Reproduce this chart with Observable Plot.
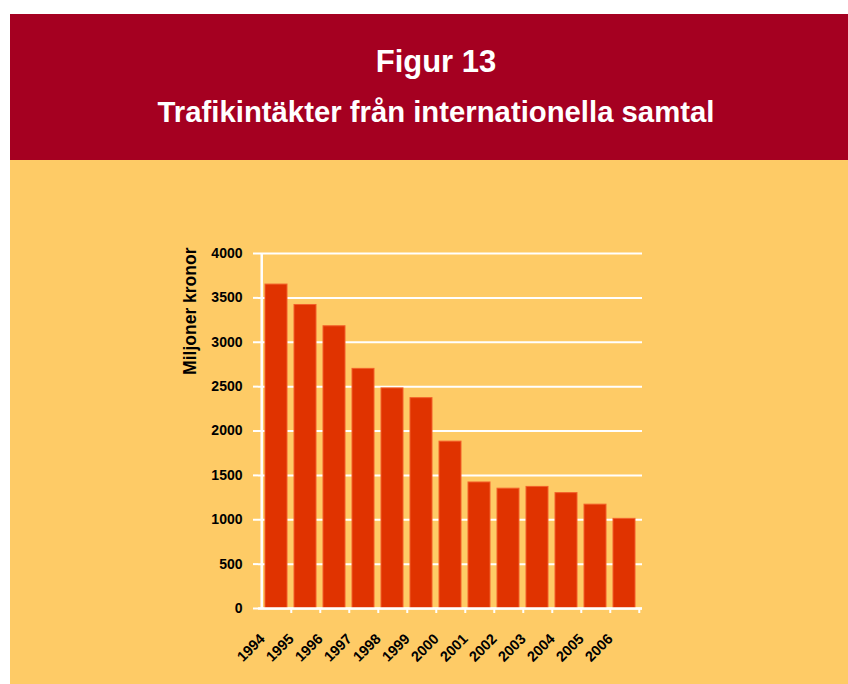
<!DOCTYPE html>
<html>
<head>
<meta charset="utf-8">
<script src="https://cdn.jsdelivr.net/npm/d3@7"></script>
<script src="https://cdn.jsdelivr.net/npm/@observablehq/plot@0.6"></script>
<style>
  html, body { margin: 0; padding: 0; background: #ffffff; }
  #page { position: relative; width: 848px; height: 684px; overflow: hidden; font-family: "Liberation Sans", Arial, sans-serif; }
  #band { position: absolute; left: 10px; top: 14px; width: 850px; height: 146px; background: #A50021; }
  #panel { position: absolute; left: 10px; top: 160px; width: 850px; height: 524px; background: #FECB66; }
  #title { position: absolute; left: 10px; width: 852px; top: 44px; line-height: 36px; text-align: center; color: #fff; font-weight: bold; font-size: 31px; }
  #subtitle { position: absolute; left: 10px; width: 852px; top: 95px; line-height: 34px; text-align: center; color: #fff; font-weight: bold; font-size: 29.3px; }
  #chart { position: absolute; left: 0; top: 160px; }
</style>
</head>
<body>
<div id="page">
  <div id="band"></div>
  <div id="panel"></div>
  <div id="title">Figur 13</div>
  <div id="subtitle">Trafikintäkter från internationella samtal</div>
  <div id="chart"></div>
</div>
<script>
const years = ["1994","1995","1996","1997","1998","1999","2000","2001","2002","2003","2004","2005","2006"];
const revenue = [3650, 3420, 3180, 2700, 2480, 2370, 1880, 1420, 1350, 1370, 1300, 1170, 1010];
const yTicks = [0, 500, 1000, 1500, 2000, 2500, 3000, 3500, 4000];
const yLabel = "Miljoner kronor";

const data = years.map((y, i) => ({year: y, value: revenue[i]}));
const step = 384 / 13;

const chart = Plot.plot({
  width: 848,
  height: 524,
  marginLeft: 258,
  marginRight: 206,
  marginTop: 93,
  marginBottom: 76,
  style: {background: "transparent", fontFamily: "'Liberation Sans', Arial, sans-serif", fontWeight: "bold", fontSize: "14px", color: "#000"},
  x: {domain: years, paddingInner: 0.25, paddingOuter: 0.125},
  y: {domain: [0, 4000], ticks: yTicks},
  marks: [
    Plot.gridY(yTicks, {stroke: "#ffffff", strokeOpacity: 1, strokeWidth: 2}),
    Plot.barY(data, {x: "year", y: "value", fill: "#E03300", stroke: "#F2602A", strokeWidth: 1}),
    Plot.ruleY([0], {stroke: "#ffffff", strokeWidth: 2.5}),
    Plot.axisY(yTicks, {tickSize: 5, stroke: "#ffffff", strokeWidth: 2, tickPadding: 11, tickFormat: d => String(d), label: null, fill: "#000", fontSize: 14, fontWeight: "bold"}),
    Plot.ruleX(years.slice(0, 1), {y1: 0, y2: 4000, dx: -step / 2, stroke: "#ffffff", strokeWidth: 2.5}),
    Plot.ruleX(years.slice(0, 1), {y1: 0, dy: 5, dx: -step / 2, stroke: "#ffffff", strokeWidth: 2}),
    Plot.axisX({tickSize: 5, dx: step / 2, stroke: "#ffffff", strokeWidth: 2, text: null, label: null}),
    Plot.axisX({tickSize: 0, tickPadding: 8, tickRotate: -45, textAnchor: "end", dx: -14, dy: 20, label: null, fill: "#000", fontSize: 14.5, fontWeight: "bold"}),
    Plot.text([yLabel], {frameAnchor: "top-left", text: d => d, rotate: -90, textAnchor: "end", dx: -75, dy: -6, fontSize: 17.5, fontWeight: "bold", fill: "#000"})
  ]
});
document.getElementById("chart").appendChild(chart);
</script>
</body>
</html>
